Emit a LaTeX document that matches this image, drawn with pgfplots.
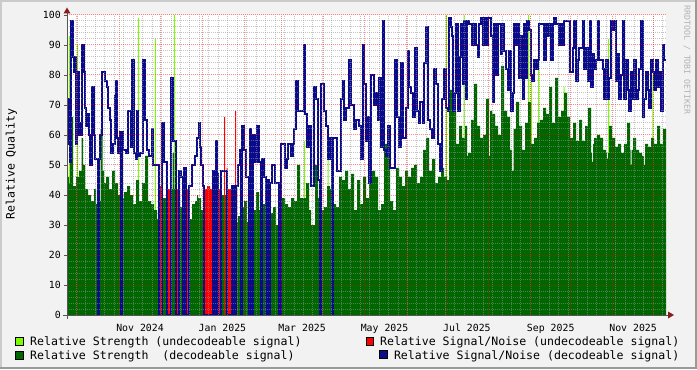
\documentclass[border=0pt]{standalone}
\usepackage{pgfplots}
\pgfplotsset{compat=1.18}
\usepackage{fontspec}
\setmainfont{DejaVu Sans Mono}
\setmonofont{DejaVu Sans Mono}
\definecolor{bgc}{HTML}{F2F2F2}
\definecolor{dkgreen}{HTML}{006600}
\definecolor{ltgreen}{HTML}{7CFC00}
\definecolor{snred}{HTML}{FF0000}
\definecolor{snblue}{HTML}{0A0A8C}
\definecolor{arrowc}{HTML}{8B1A1A}
\definecolor{axisc}{HTML}{555555}
\definecolor{shadea}{HTML}{CBCBCB}
\definecolor{shadeb}{HTML}{999999}
\begin{document}
\begin{tikzpicture}[x=1bp,y=1bp]
\fill[bgc] (0,0) rectangle (697,369);
\draw[line width=2bp, shadea] (1,0) -- (1,368) -- (697,368);
\draw[line width=2bp, shadeb] (0,1) -- (696,1) -- (696,369);
\begin{axis}[
  at={(67bp,54bp)}, anchor=south west,
  scale only axis, width=599bp, height=300bp,
  xmin=67, xmax=666, ymin=0, ymax=100,
  axis background/.style={fill=white},
  axis line style={draw=none},
  axis on top,
  no markers,
  xtick={77.8,119.7,160.2,202.1,244.0,281.8,323.7,364.2,406.1,446.6,488.5,530.4,570.9,612.8,653.3},
  xticklabels={},
  minor xtick={76.5,85.957,...,666},
  extra x ticks={140,222.4,302.1,384.5,466.9,550.7,633.1},
  extra x tick labels={Nov 2024,Jan 2025,Mar 2025,May 2025,Jul 2025,Sep 2025,Nov 2025},
  extra x tick style={grid=none, tick style={draw=none}, xticklabel style={font=\fontsize{9.9}{10}\selectfont, anchor=base, inner sep=0pt, yshift=-13.5bp}},
  ytick={0,10,...,100}, minor y tick num=4,
  /pgf/number format/assume math mode=true,
  yticklabel style={font=\fontsize{9.9}{10}\selectfont, inner sep=0pt, anchor=east, xshift=-3bp},
  grid=both,
  major grid style={dash pattern=on 1bp off 1bp, line width=1bp, color=red, opacity=0.45},
  minor grid style={dash pattern=on 1bp off 1bp, line width=1bp, color={rgb,255:red,150;green,150;blue,150}, opacity=0.55},
  major tick length=3bp, minor tick length=0pt,
  tick align=outside, ytick pos=left,
  ytick style={draw=axisc, line width=0.8bp},
  xtick style={draw=none},
]
% Relative Strength (undecodeable)
\addplot[const plot, fill=ltgreen, draw=none] coordinates {
(67,0) (68.8,93) (69.8,0) (77.2,90) (78.2,0) (137.8,99) (138.8,0) (154.8,92) (155.8,0) (173.8,100) (174.8,0)
(303.8,58) (304.8,0) (327.5,61) (328.5,0) (445.8,100) (446.8,0) (463.5,100) (464.5,0) (475.5,74) (476.5,0)
(528,100) (529,0) (531,86) (532,0) (538,93) (539,0) (563.5,76) (564.5,0) (608,92) (609,0) (652.3,80) (653.3,0) (666,0)
} \closedcycle;
% Relative Strength (decodeable)
\addplot[const plot, fill=dkgreen, draw=none] coordinates {
(67,46) (69,44) (70,66) (73,43) (76,46) (79,48) (81.5,59) (83,50) (85,42) (88,40) (91,38) (94,42) (96,37) (98,0) (99,38)
(100.5,62) (102.5,48) (104,44) (106,46) (109,42) (112,48) (115,44) (118,40) (121,0) (122,39) (124,41) (127,43) (130,40)
(133,37) (136,45) (139,38) (142,44) (145,53) (148,38) (151,37) (154,35) (157,32) (159.3,0) (162,39) (164,39) (167,0)
(171,42) (172.5,54) (174,42) (175.7,0) (179,40) (180,36) (183,0) (184,34) (185.7,0) (189,32) (192,37) (195,38) (197,40)
(198,39) (201,35) (204,0) (213,35) (214.7,0) (216,40) (218,0) (221,40) (226.5,0) (232.3,35) (234,0) (236,31) (238,33)
(241.3,0) (242.3,36) (244,38) (247,31) (249,0) (250,42) (252,0) (253,35) (256,41) (259,35) (260.7,0) (261.7,37)
(265.7,0) (266.7,35) (269,0) (270,34) (273,36) (276,30) (279,0) (281,39) (285,37) (288,36) (291,39) (294,38) (297,50)
(300,39) (303,39) (306,44) (309,35) (311,30) (315,50) (318,39) (320,0) (321,35) (324,36) (327,43) (330,42) (332,0)
(333,37) (336,36) (339,46) (342,45) (345,48) (348,42) (351,47) (354,35) (357,45) (360,37) (363,46) (366,39) (369,44)
(372,48) (375,46) (378,35) (381,37) (384,57) (387,53) (390,38) (393,35) (396,49) (399,46) (402,43) (405,48) (408,46)
(411,49) (414,50) (417,44) (420,46) (423,55) (426,59) (429,48) (432,52) (435,44) (438,46) (441,49) (444,46) (447,45)
(449,75) (453,68) (456,57) (459,63) (462,59) (465,63) (467,53) (468,54) (471,65) (474,77) (477,63) (480,59) (483,60)
(486,72) (489,53) (490,68) (492,67) (495,63) (498,60) (501,83) (504,68) (507,66) (510,55) (512,48) (513.5,62) (516,71)
(519,63) (522,55) (525,64) (528,71) (531,57) (534,59) (537,64) (540,65) (543,69) (546,67) (549,76) (552,64) (555,79)
(558,66) (561,68) (564,74) (567,66) (570,59) (573,64) (576,58) (579,65) (582,58) (585,63) (588,69) (591,54) (592,51)
(593,57) (594,59) (597,60) (600,59) (603,55) (606,54) (607,52) (608,54) (609,63) (612,59) (615,56) (618,57) (621,54)
(624,57) (627,64) (630,55) (630.7,50) (631.7,55) (633,59) (636,55) (639,54) (642,53) (644,50) (645,57) (648,56)
(651,59) (654,57) (657,63) (660,57) (663,62) (666,62)
} \closedcycle;
% Relative Signal/Noise (undecodeable)
\addplot[const plot, fill=snred, draw=none] coordinates {
(67,0) (159.3,43) (162,0) (168,42) (171,0) (175.7,42) (178,0) (185.7,42) (189,0) (204,42) (207,43) (210,42) (213,0)
(218,42) (221,0) (224,66) (225,0) (226.7,49) (227.7,42) (232,0) (234,42) (235,68) (236,42) (237,0) (269,42) (270,0) (666,0)
} \closedcycle;
% Relative Signal/Noise (decodeable)
\addplot[const plot, snblue, line width=2bp] coordinates {
(67,72) (69,57) (70,51) (71,98) (73,86) (74,81) (75,86) (76,57) (77,76) (78,81) (79,60) (80,64) (81,60) (82,90) (84,81)
(85,69) (86,63) (87,67) (89,60) (90,50) (92,76) (94,60) (95,52) (98,0) (99,52) (100,60) (102,81) (105,78) (107,76)
(108,69) (110,65) (111,54) (113,57) (115,73) (116,78) (117,59) (118,54) (120,61) (121,0) (122,61) (123,55) (126,54)
(128,68) (131,56) (132,85) (134,54) (136,52) (137,68) (138,53) (140,54) (143,85) (145,65) (147,55) (149,53) (152,62)
(153,50) (157,50) (159.3,0) (162,64) (164,51) (167,0) (171,79) (173,58) (175.7,0) (179,48) (181,46) (183,0) (184,49)
(185.7,0) (189,43) (192,50) (195,53) (197,59) (198.5,64) (200,56) (201,50) (203,43) (204,0) (213,48) (214.7,0) (216,58)
(217,47) (218,0) (221,48) (226.5,0) (232.3,43) (234,0) (236,43) (238,50) (240,55) (241.3,0) (242.3,63) (244,55) (246,46)
(249,0) (250,62) (251,53) (252,0) (253,60) (255,51) (257,63) (259,51) (260.7,0) (261.7,52) (264,46) (265.7,0) (266.7,45)
(269,0) (270,44) (272,50) (275,44) (279,0) (281,57) (284.5,49) (286.5,52) (288,57) (291,53) (293,57) (294,62) (296,78)
(298,68) (303.5,90) (305,67) (307,56) (309,63) (311,43) (314,76) (316,72) (318,45) (320,0) (321,77) (324,68) (326,63)
(328,52) (330,59) (332,0) (333,59) (337,48) (341,72) (343,78) (344,65) (346,69) (349,85) (351,70) (354,62) (356,65)
(359,63) (361,52) (363,90) (364,77) (366,58) (367,66) (369,44) (371,80) (373.5,70) (376,74) (377.5,65) (379,79) (381,56)
(382.5,98) (384,55) (386,53) (387.5,63) (390,49) (394.5,85) (396.5,66) (399,56) (401,84) (403,59) (406,69) (407.5,88)
(409,76) (411,74) (413,66) (414.5,89) (416.5,68) (418.5,64) (420,71) (422.5,64) (424,84) (426,96) (428,65) (430,62)
(432,59) (434,82) (436,77) (437.5,57) (440,48) (442,72) (444,82) (446,69) (448,68) (449,99) (450.5,96) (452,93) (453,68)
(454.5,74) (456,97) (458,68) (459.5,86) (461,97) (463,77) (464,98) (465.5,72) (467,98) (469,97) (472,90) (474,97)
(476,90) (477.5,86) (479,97) (481,99) (482.5,90) (484,99) (486,90) (487.5,99) (491,93) (492.5,71) (494,97) (496,80)
(497.5,97) (500.5,87) (502,97) (504,88) (505.5,82) (507.5,75) (509,88) (511,68) (512.5,74) (514,97) (515.5,90)
(517.5,97) (519,79) (521,93) (522.5,72) (524,97) (525.5,79) (527,98) (529,95) (530.5,80) (532,78) (534,85) (535.5,82)
(537.5,85) (539,97) (544,85) (545.5,97) (547.5,93) (549,97) (551,85) (552.5,97) (554,99) (556,97) (559,90) (561,97)
(562.5,90) (564,98) (570,81) (572.5,89) (574,98) (575.5,78) (577.5,85) (579,89) (582.5,98) (584,82) (586,89) (587.5,78)
(590,98) (591,76) (592.5,87) (594,82) (596,85) (597.5,98) (599,85) (602.5,82) (604,72) (605.5,85) (607.5,72) (609,79)
(610.5,98) (612.5,95) (614,98) (615.5,78) (617.5,87) (619,72) (621,80) (622.5,98) (624,72) (626,85) (627.5,75) (629,68)
(631,81) (632.5,72) (634,85) (636,72) (637.5,75) (639,82) (640.5,98) (642.5,66) (644,72) (646,81) (647.5,75) (649,69)
(651,85) (652.5,81) (654,75) (656,85) (657.5,76) (659,81) (661,68) (662.5,90) (664,85) (666,85)
};
\end{axis}
% axes with arrows
\draw[axisc, line width=1bp] (63,54) -- (669,54);
\fill[arrowc] (668,50.5) -- (674,54) -- (668,57.5) -- cycle;
\draw[axisc, line width=1bp] (67,50) -- (67,357);
\fill[arrowc] (63.5,355.5) -- (67,361.5) -- (70.5,355.5) -- cycle;
% labels
\node[font=\fontsize{11.6}{12}\selectfont, rotate=90] at (11.5,205) {Relative Quality};
\node[font=\fontsize{8.3}{9}\selectfont, text=gray!60, rotate=-90] at (687,309) {RRDTOOL / TOBI OETIKER};
% legend
\filldraw[fill=ltgreen, draw=black, line width=0.5bp] (15,24) rectangle (23,32);
\node[font=\fontsize{11.6}{12}\selectfont, anchor=base west, inner sep=0pt] at (30,24) {Relative Strength (undecodeable signal)};
\filldraw[fill=dkgreen, draw=black, line width=0.5bp] (15,10) rectangle (23,18);
\node[font=\fontsize{11.6}{12}\selectfont, anchor=base west, inner sep=0pt] at (30,10) {Relative Strength\ \ (decodeable signal)};
\filldraw[fill=snred, draw=black, line width=0.5bp] (366,24) rectangle (373,32);
\node[font=\fontsize{11.6}{12}\selectfont, anchor=base east, inner sep=0pt] at (679.5,24) {Relative Signal/Noise (undecodeable signal)};
\filldraw[fill=snblue, draw=black, line width=0.5bp] (379.5,10.5) rectangle (387,18.5);
\node[font=\fontsize{11.6}{12}\selectfont, anchor=base east, inner sep=0pt] at (679.5,10) {Relative Signal/Noise (decodeable signal)};
\pgfresetboundingbox
\path[use as bounding box] (0,0) rectangle (697,369);
\end{tikzpicture}
\end{document}
